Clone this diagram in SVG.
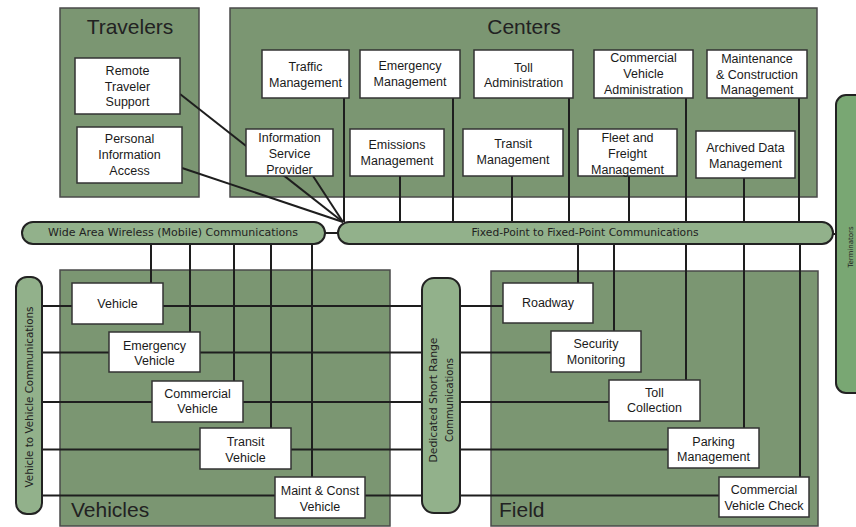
<svg xmlns="http://www.w3.org/2000/svg" width="856" height="527" viewBox="0 0 856 527">
<style>
.grp{fill:#7b9672;stroke:#4a4a4a;stroke-width:1.5}
.bus{fill:#92b18b;stroke:#222;stroke-width:2}
.term{fill:#79a773;stroke:#222;stroke-width:2}
.node{fill:#fff;stroke:#333;stroke-width:1.5}
.t{font-family:"Liberation Sans",Arial,sans-serif;font-size:12.5px;fill:#1a1a1a;text-anchor:middle}
.title{font-family:"Liberation Sans",Arial,sans-serif;font-size:21px;fill:#222}
.bl{font-family:"DejaVu Sans",sans-serif;font-size:10.5px;fill:#222;text-anchor:middle}
#connectors line,#connectors polyline{stroke:#1e1e1e;stroke-width:2;fill:none}
</style>
<rect width="856" height="527" fill="#fff"/>
<g id="group-travelers"><rect class="grp" x="60" y="8" width="139" height="189"/><text class="title" x="130" y="34" text-anchor="middle">Travelers</text></g>
<g id="group-centers"><rect class="grp" x="230" y="8" width="587" height="189"/><text class="title" x="524" y="34" text-anchor="middle">Centers</text></g>
<g id="group-vehicles"><rect class="grp" x="60" y="270" width="330" height="256"/><text class="title" x="71" y="517">Vehicles</text></g>
<g id="group-field"><rect class="grp" x="491" y="271" width="327" height="255"/><text class="title" x="499" y="517">Field</text></g>

<g id="connectors">
<line x1="180" y1="94" x2="343" y2="222"/>
<line x1="182" y1="168" x2="343" y2="222"/>
<line x1="313" y1="176" x2="343" y2="222"/>
<line x1="344" y1="98" x2="344" y2="222"/>
<line x1="400" y1="176" x2="400" y2="222"/>
<line x1="453" y1="98" x2="453" y2="222"/>
<line x1="512" y1="176" x2="512" y2="222"/>
<line x1="569" y1="98" x2="569" y2="222"/>
<line x1="629" y1="176" x2="629" y2="222"/>
<line x1="686" y1="98" x2="686" y2="222"/>
<line x1="744" y1="178" x2="744" y2="222"/>
<line x1="799" y1="98" x2="799" y2="222"/>
<line x1="325" y1="233" x2="338" y2="233"/>
<line x1="833" y1="234" x2="836" y2="234"/>
<line x1="151" y1="244" x2="151" y2="283"/>
<line x1="190" y1="244" x2="190" y2="332"/>
<line x1="234" y1="244" x2="234" y2="381"/>
<line x1="271" y1="244" x2="271" y2="428"/>
<line x1="312" y1="244" x2="312" y2="477"/>
<line x1="578" y1="244" x2="578" y2="283"/>
<line x1="614" y1="244" x2="614" y2="331"/>
<line x1="686" y1="244" x2="686" y2="380"/>
<line x1="744" y1="244" x2="744" y2="428"/>
<line x1="800" y1="244" x2="800" y2="477"/>
<line x1="42" y1="306" x2="422" y2="306"/>
<line x1="42" y1="352.5" x2="422" y2="352.5"/>
<line x1="42" y1="402" x2="422" y2="402"/>
<line x1="42" y1="449.5" x2="422" y2="449.5"/>
<line x1="42" y1="495.5" x2="422" y2="495.5"/>
<line x1="460" y1="306" x2="503" y2="306"/>
<line x1="460" y1="352.5" x2="551" y2="352.5"/>
<line x1="460" y1="402" x2="609" y2="402"/>
<line x1="460" y1="449.5" x2="668" y2="449.5"/>
<line x1="460" y1="495.5" x2="719" y2="495.5"/>
</g>

<g id="bus-waw"><rect class="bus" x="22" y="222" width="303" height="22" rx="11"/><text class="bl" x="173" y="236" textLength="250" lengthAdjust="spacingAndGlyphs">Wide Area Wireless (Mobile) Communications</text></g>
<g id="bus-fixed"><rect class="bus" x="338" y="222" width="495" height="22" rx="11"/><text class="bl" x="585" y="236" textLength="227" lengthAdjust="spacingAndGlyphs">Fixed-Point to Fixed-Point Communications</text></g>
<g id="bus-v2v"><rect class="bus" x="16" y="277" width="26" height="237" rx="11"/><text class="bl" transform="translate(33,397) rotate(-90)" textLength="181" lengthAdjust="spacingAndGlyphs">Vehicle to Vehicle Communications</text></g>
<g id="bus-dsrc"><rect class="bus" x="422" y="278" width="38" height="235" rx="12"/><text class="bl" transform="translate(437,400) rotate(-90)" textLength="125" lengthAdjust="spacingAndGlyphs">Dedicated Short Range</text><text class="bl" transform="translate(453,400) rotate(-90)" textLength="84" lengthAdjust="spacingAndGlyphs">Communications</text></g>
<g id="bus-terminators"><rect class="term" x="836" y="95" width="40" height="298" rx="10"/><text class="bl" style="font-size:7px" transform="translate(853,247) rotate(-90)">Terminators</text></g>

<g id="remote-traveler-support"><rect class="node" x="75" y="58" width="105" height="56"/><text class="t" x="127.5" y="74.5">Remote</text><text class="t" x="127.5" y="90.5">Traveler</text><text class="t" x="127.5" y="105.5">Support</text></g>
<g id="personal-information-access"><rect class="node" x="77" y="127" width="105" height="56"/><text class="t" x="129.5" y="142.5">Personal</text><text class="t" x="129.5" y="158.5">Information</text><text class="t" x="129.5" y="174.5">Access</text></g>
<g id="traffic-management"><rect class="node" x="262" y="50" width="87" height="48"/><text class="t" x="305.5" y="71">Traffic</text><text class="t" x="305.5" y="86.5">Management</text></g>
<g id="emergency-management"><rect class="node" x="360" y="50" width="100" height="48"/><text class="t" x="410" y="70">Emergency</text><text class="t" x="410" y="86">Management</text></g>
<g id="toll-administration"><rect class="node" x="474" y="50" width="99" height="48"/><text class="t" x="523.5" y="71.5">Toll</text><text class="t" x="523.5" y="86.5">Administration</text></g>
<g id="commercial-vehicle-administration"><rect class="node" x="594" y="50" width="99" height="48"/><text class="t" x="643.5" y="61.5">Commercial</text><text class="t" x="643.5" y="77.5">Vehicle</text><text class="t" x="643.5" y="93.5">Administration</text></g>
<g id="maintenance-construction-management"><rect class="node" x="707" y="50" width="100" height="48"/><text class="t" x="757" y="63">Maintenance</text><text class="t" x="757" y="78.5">&amp; Construction</text><text class="t" x="757" y="94">Management</text></g>
<g id="information-service-provider"><rect class="node" x="246" y="129" width="87" height="47"/><text class="t" x="289.5" y="141.5">Information</text><text class="t" x="289.5" y="158">Service</text><text class="t" x="289.5" y="173.5">Provider</text></g>
<g id="emissions-management"><rect class="node" x="350" y="129" width="94" height="47"/><text class="t" x="397" y="148.5">Emissions</text><text class="t" x="397" y="165">Management</text></g>
<g id="transit-management"><rect class="node" x="463" y="129" width="100" height="47"/><text class="t" x="513" y="147.5">Transit</text><text class="t" x="513" y="163.5">Management</text></g>
<g id="fleet-freight-management"><rect class="node" x="578" y="129" width="99" height="47"/><text class="t" x="627.5" y="141.5">Fleet and</text><text class="t" x="627.5" y="157.5">Freight</text><text class="t" x="627.5" y="173.5">Management</text></g>
<g id="archived-data-management"><rect class="node" x="696" y="131" width="99" height="47"/><text class="t" x="745.5" y="151.5">Archived Data</text><text class="t" x="745.5" y="167.5">Management</text></g>

<g id="vehicle"><rect class="node" x="72" y="283" width="91" height="41"/><text class="t" x="117.5" y="307.5">Vehicle</text></g>
<g id="emergency-vehicle"><rect class="node" x="109" y="332" width="91" height="40"/><text class="t" x="154.5" y="349.5">Emergency</text><text class="t" x="154.5" y="364.5">Vehicle</text></g>
<g id="commercial-vehicle"><rect class="node" x="152" y="381" width="91" height="41"/><text class="t" x="197.5" y="397.5">Commercial</text><text class="t" x="197.5" y="412.5">Vehicle</text></g>
<g id="transit-vehicle"><rect class="node" x="200" y="428" width="91" height="41"/><text class="t" x="245.5" y="445.5">Transit</text><text class="t" x="245.5" y="461.5">Vehicle</text></g>
<g id="maint-const-vehicle"><rect class="node" x="275" y="477" width="90" height="41"/><text class="t" x="320" y="494.5">Maint &amp; Const</text><text class="t" x="320" y="510.5">Vehicle</text></g>

<g id="roadway"><rect class="node" x="503" y="283" width="90" height="40"/><text class="t" x="548" y="306.5">Roadway</text></g>
<g id="security-monitoring"><rect class="node" x="551" y="331" width="90" height="41"/><text class="t" x="596" y="347.5">Security</text><text class="t" x="596" y="363.5">Monitoring</text></g>
<g id="toll-collection"><rect class="node" x="609" y="380" width="91" height="41"/><text class="t" x="654.5" y="396.5">Toll</text><text class="t" x="654.5" y="411.5">Collection</text></g>
<g id="parking-management"><rect class="node" x="668" y="428" width="91" height="40"/><text class="t" x="713.5" y="445.5">Parking</text><text class="t" x="713.5" y="460.5">Management</text></g>
<g id="commercial-vehicle-check"><rect class="node" x="719" y="477" width="90" height="40"/><text class="t" x="764" y="493.5">Commercial</text><text class="t" x="764" y="509.5">Vehicle Check</text></g>
</svg>
